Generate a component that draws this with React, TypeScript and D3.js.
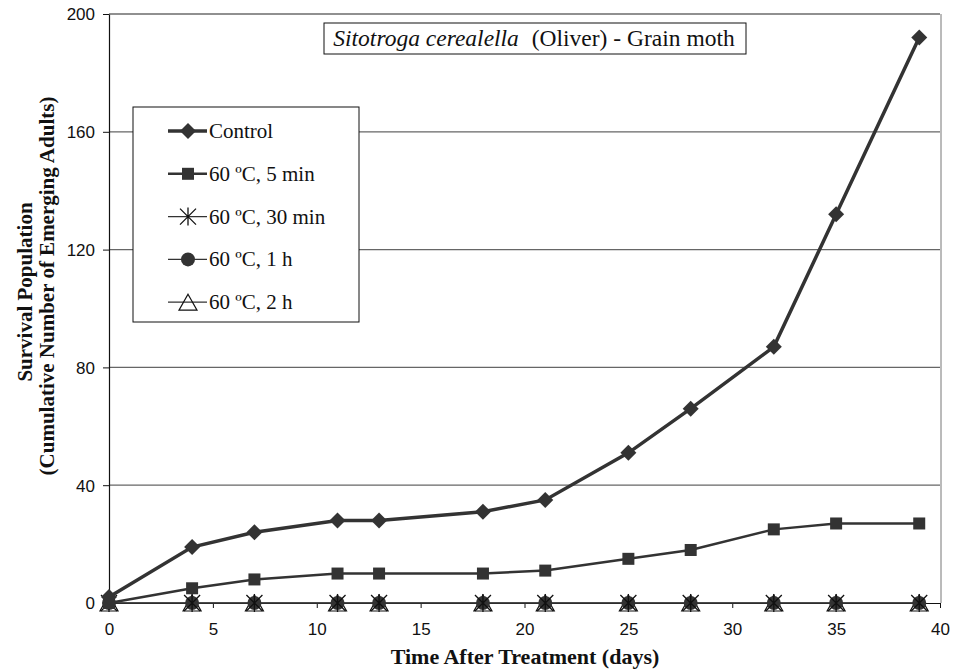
import React, { useEffect, useRef } from 'react';
import * as d3 from 'd3';

// days after treatment
const days = [0, 4, 7, 11, 13, 18, 21, 25, 28, 32, 35, 39];
const control = [2, 19, 24, 28, 28, 31, 35, 51, 66, 87, 132, 192];
const min5 = [0, 5, 8, 10, 10, 10, 11, 15, 18, 25, 27, 27];
const min30 = [0, 0, 0, 0, 0, 0, 0, 0, 0, 0, 0, 0];
const h1 = [0, 0, 0, 0, 0, 0, 0, 0, 0, 0, 0, 0];
const h2 = [0, 0, 0, 0, 0, 0, 0, 0, 0, 0, 0, 0];
const xTicks = [0, 5, 10, 15, 20, 25, 30, 35, 40];
const yTicks = [0, 40, 80, 120, 160, 200];

const series = [
  { name: 'Control', values: control, marker: 'diamond', width: 3.5 },
  { name: '60 ºC, 5 min', values: min5, marker: 'square', width: 2.5 },
  { name: '60 ºC, 30 min', values: min30, marker: 'star', width: 1.2 },
  { name: '60 ºC, 1 h', values: h1, marker: 'circle', width: 1.2 },
  { name: '60 ºC, 2 h', values: h2, marker: 'triangle', width: 1.2 },
];

const ink = '#333';
const serif = '"Liberation Serif", "Times New Roman", serif';
const sans = '"Liberation Sans", Arial, sans-serif';

function drawMarker(g, type, x, y) {
  if (type === 'diamond') {
    g.append('path')
      .attr('d', `M${x},${y - 8}L${x + 8},${y}L${x},${y + 8}L${x - 8},${y}Z`)
      .attr('fill', ink);
  } else if (type === 'square') {
    g.append('rect')
      .attr('x', x - 6).attr('y', y - 6)
      .attr('width', 12).attr('height', 12)
      .attr('fill', ink);
  } else if (type === 'star') {
    g.append('path')
      .attr('d', `M${x - 8},${y - 8}L${x + 8},${y + 8}M${x + 8},${y - 8}L${x - 8},${y + 8}M${x},${y - 9}L${x},${y + 9}`)
      .attr('stroke', '#111').attr('stroke-width', 1.3).attr('fill', 'none');
  } else if (type === 'circle') {
    g.append('circle').attr('cx', x).attr('cy', y).attr('r', 7).attr('fill', ink);
  } else if (type === 'triangle') {
    g.append('path')
      .attr('d', `M${x},${y - 8}L${x + 9},${y + 8}L${x - 9},${y + 8}Z`)
      .attr('fill', 'none').attr('stroke', '#111').attr('stroke-width', 1.2);
  }
}

function Chart() {
  const ref = useRef(null);

  useEffect(() => {
    const svg = d3.select(ref.current);
    svg.selectAll('*').remove();

    const x = d3.scaleLinear().domain([0, 40]).range([109, 940]);
    const y = d3.scaleLinear().domain([0, 200]).range([603, 14]);

    // gridlines
    svg.append('g')
      .selectAll('line')
      .data(yTicks.filter((t) => t > 0))
      .join('line')
      .attr('x1', x(0)).attr('x2', x(40))
      .attr('y1', (d) => y(d)).attr('y2', (d) => y(d))
      .attr('stroke', (d) => (d === 200 ? '#222' : '#666'))
      .attr('stroke-width', 1.2);

    // right border
    svg.append('line')
      .attr('x1', x(40) + 1).attr('x2', x(40) + 1)
      .attr('y1', y(200)).attr('y2', y(0))
      .attr('stroke', '#777');

    // axes
    const xAxis = svg.append('g')
      .attr('transform', `translate(0,${y(0)})`)
      .call(d3.axisBottom(x).tickValues(xTicks).tickSize(5).tickPadding(15).tickSizeOuter(0));
    const yAxis = svg.append('g')
      .attr('transform', `translate(${x(0)},0)`)
      .call(d3.axisLeft(y).tickValues(yTicks).tickSize(6).tickPadding(8).tickSizeOuter(0));
    [xAxis, yAxis].forEach((a) => {
      a.selectAll('text')
        .attr('font-family', sans)
        .attr('font-size', 17)
        .attr('fill', '#111');
      a.selectAll('line').attr('stroke', '#111');
      a.select('.domain').attr('stroke', '#111').attr('stroke-width', 1.2);
    });
    yAxis.selectAll('text').attr('dy', '0.35em');

    // series lines + markers
    const line = d3.line()
      .x((d) => x(d[0]))
      .y((d) => y(d[1]));

    series.slice().reverse().forEach((s) => {
      const pts = days.map((d, i) => [d, s.values[i]]);
      svg.append('path')
        .datum(pts)
        .attr('d', line)
        .attr('fill', 'none')
        .attr('stroke', ink)
        .attr('stroke-width', s.width);
      const g = svg.append('g');
      pts.forEach((p) => drawMarker(g, s.marker, x(p[0]), y(p[1])));
    });

    // title box
    svg.append('rect')
      .attr('x', 324).attr('y', 23).attr('width', 422).attr('height', 31)
      .attr('fill', 'white').attr('stroke', '#111');
    const title = svg.append('text')
      .attr('x', 534).attr('y', 46)
      .attr('text-anchor', 'middle')
      .attr('font-family', serif)
      .attr('font-size', 23.5)
      .attr('fill', '#111');
    title.append('tspan').attr('font-style', 'italic').text('Sitotroga cerealella');
    title.append('tspan').attr('dx', 7).text(' (Oliver) - Grain moth');

    // legend
    svg.append('rect')
      .attr('x', 133).attr('y', 107).attr('width', 226).attr('height', 215)
      .attr('fill', 'white').attr('stroke', '#111');
    series.forEach((s, i) => {
      const ly = 131 + i * 42.8;
      svg.append('line')
        .attr('x1', 168).attr('x2', 207)
        .attr('y1', ly).attr('y2', ly)
        .attr('stroke', ink).attr('stroke-width', s.width);
      drawMarker(svg.append('g'), s.marker, 188, ly);
      svg.append('text')
        .attr('x', 209).attr('y', ly + 7)
        .attr('font-family', serif)
        .attr('font-size', 21)
        .attr('fill', '#111')
        .text(s.name);
    });

    // axis titles
    svg.append('text')
      .attr('x', 525).attr('y', 664)
      .attr('text-anchor', 'middle')
      .attr('font-family', serif)
      .attr('font-size', 22).attr('font-weight', 'bold')
      .attr('fill', '#111')
      .text('Time After Treatment (days)');
    const yl = svg.append('text')
      .attr('transform', 'translate(0,286) rotate(-90)')
      .attr('text-anchor', 'middle')
      .attr('font-family', serif)
      .attr('font-size', 21).attr('font-weight', 'bold')
      .attr('fill', '#111');
    yl.append('tspan').attr('x', -6).attr('y', 32).text('Survival Population');
    yl.append('tspan').attr('x', 0).attr('y', 54).text('(Cumulative Number of Emerging Adults)');
  }, []);

  return <svg ref={ref} width={954} height={670} style={{ display: 'block' }} />;
}

export default function App() {
  return (
    <div style={{ position: 'absolute', left: 0, top: 0, background: 'white' }}>
      <Chart />
    </div>
  );
}
